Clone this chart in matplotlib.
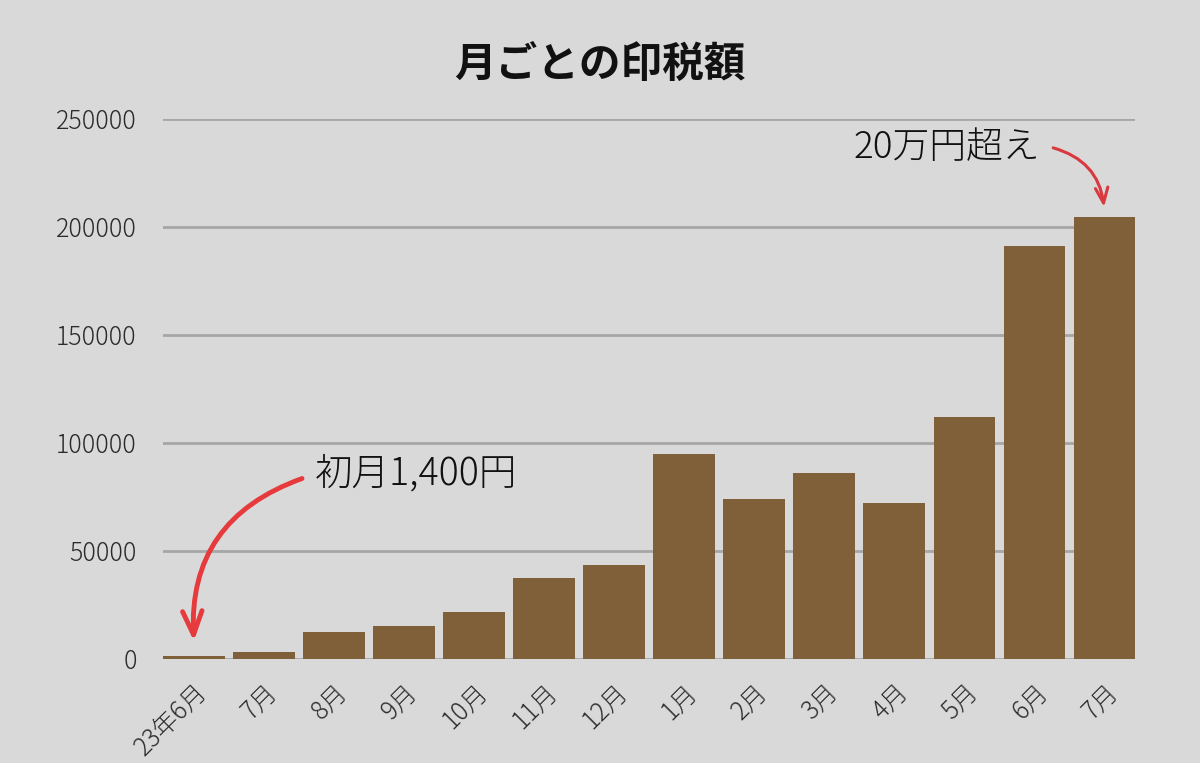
import matplotlib.pyplot as plt

plt.rcParams['font.family'] = ['Noto Sans CJK JP', 'DejaVu Sans']

# 月ごとの印税額 (円)
months = ['23年6月', '7月', '8月', '9月', '10月', '11月', '12月',
          '1月', '2月', '3月', '4月', '5月', '6月', '7月']
royalty = [1400, 3200, 12500, 15300, 21800, 37500, 43500,
           94900, 74100, 86100, 72200, 112000, 191200, 204600]
yticks = [0, 50000, 100000, 150000, 200000, 250000]

bg = '#d9d9d9'
bar_color = '#806038'
red = '#e63a3c'

fig = plt.figure(figsize=(12, 7.63), dpi=100, facecolor=bg)
ax = fig.add_axes([0.136, 0.1363, 0.810, 0.7077], facecolor=bg)

x = range(len(months))
ax.bar(x, royalty, width=0.88, color=bar_color, zorder=3)

ax.set_xlim(-0.44, len(months) - 1 + 0.44)
ax.set_ylim(0, 250000)
ax.set_yticks(yticks)
ax.set_yticklabels([str(v) for v in yticks])
ax.yaxis.grid(True, color='#a6a6a6', linewidth=2, zorder=0)
ax.set_axisbelow(True)

ax.set_xticks(list(x))
ax.set_xticklabels(months, rotation=45, ha='right', rotation_mode='anchor')

for s in ax.spines.values():
    s.set_visible(False)
ax.tick_params(axis='both', length=0, labelsize=18, labelcolor='#2b2b2b')
ax.tick_params(axis='y', pad=19)
ax.tick_params(axis='x', pad=14)
for lab in ax.get_xticklabels() + ax.get_yticklabels():
    lab.set_fontweight('light')

fig.text(0.5, 0.915, '月ごとの印税額', ha='center', va='center',
         fontsize=30, fontweight='bold', color='#111111')

# 初月の注釈
ax.annotate('', xy=(0, 7000), xytext=(1.58, 84000),
            arrowprops=dict(arrowstyle='->,head_length=1.7,head_width=0.7',
                            color=red, lw=3.5,
                            connectionstyle='arc3,rad=0.38'),
            zorder=5)
ax.text(1.73, 86000, '初月1,400円', ha='left', va='center',
        fontsize=27, fontweight='light', color='#111111')

# 20万円超えの注釈
ax.annotate('', xy=(13, 208000), xytext=(12.23, 237000),
            arrowprops=dict(arrowstyle='->,head_length=1.1,head_width=0.45',
                            color='#d9393e', lw=2.2,
                            connectionstyle='arc3,rad=-0.35'),
            zorder=5)
ax.text(12.08, 236500, '20万円超え', ha='right', va='center',
        fontsize=26.5, fontweight='light', color='#111111')

fig.savefig('out.png', dpi=100, facecolor=bg)
